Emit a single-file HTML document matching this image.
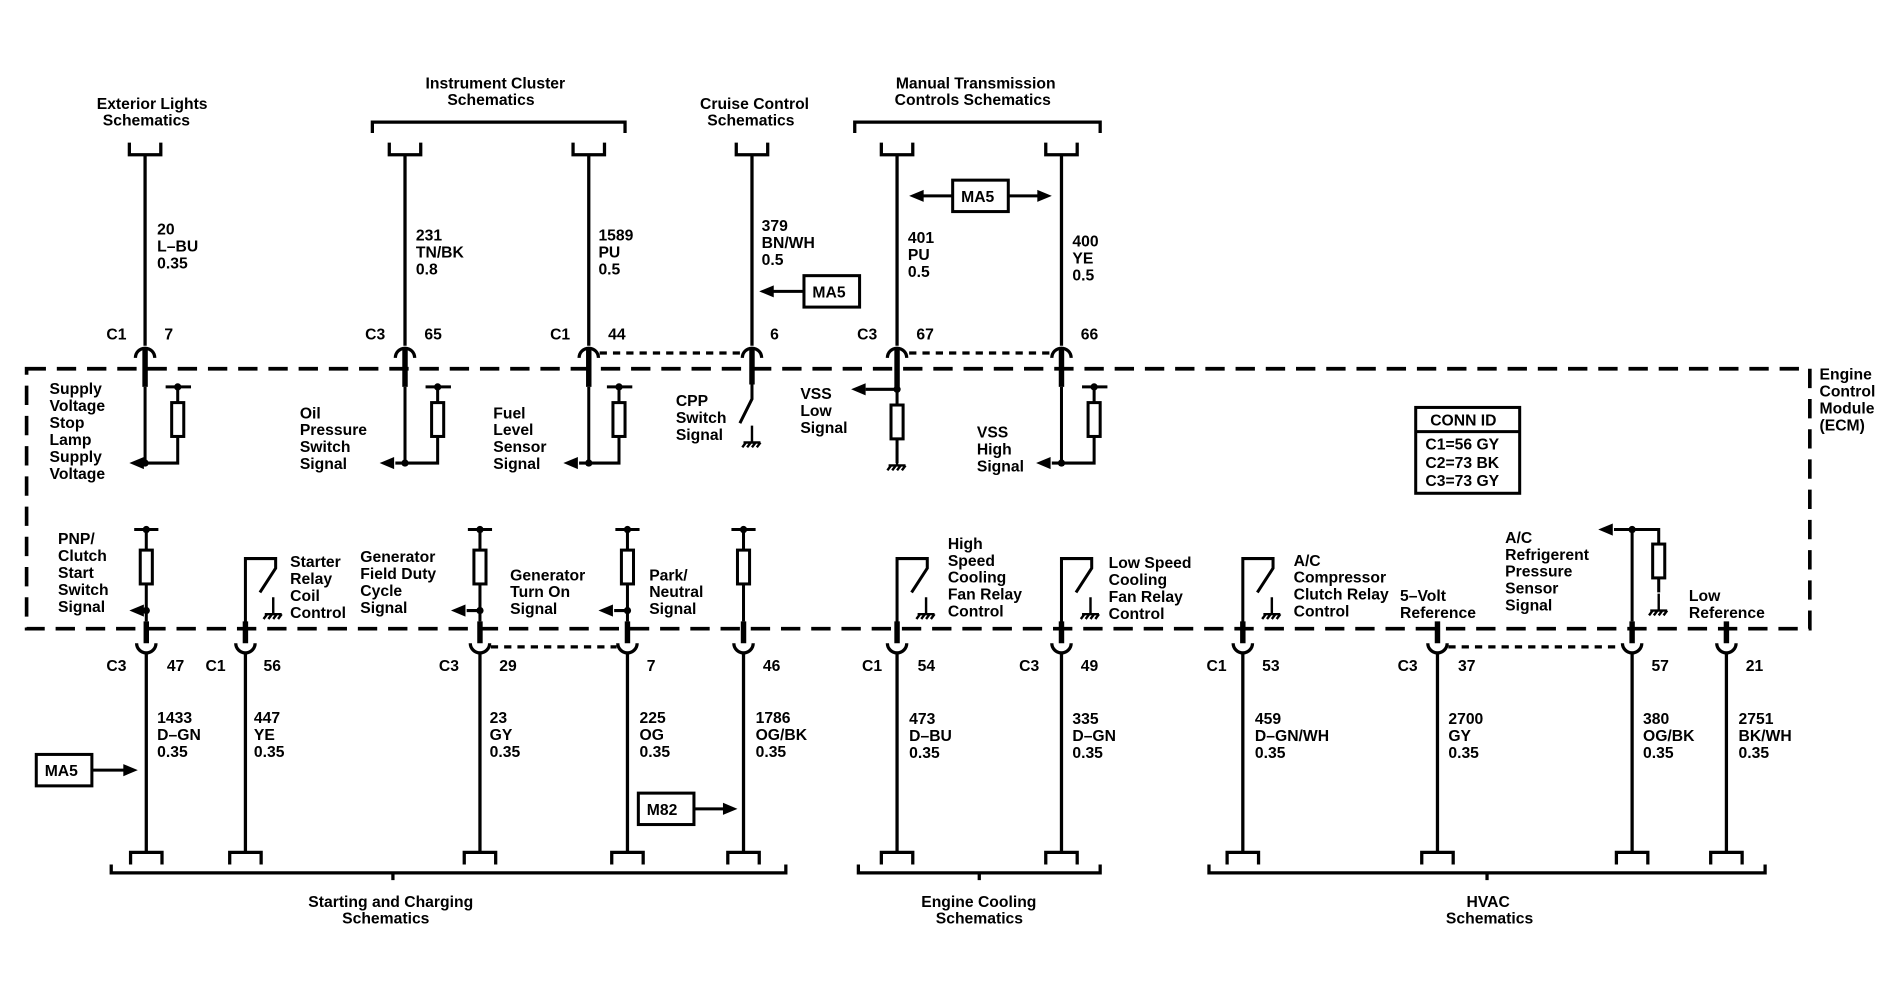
<!DOCTYPE html>
<html><head><meta charset="utf-8"><style>
html,body{margin:0;padding:0;background:#fff;}
svg{display:block}
text{font-family:"Liberation Sans",Arial,sans-serif;font-size:13px;fill:#000;font-weight:bold;}
</style></head><body>
<svg width="1886" height="992" viewBox="0 0 1560 820.5" preserveAspectRatio="none" xmlns="http://www.w3.org/2000/svg">
<defs>
<path id="tt" d="M-13,-10 V0 H13 V-10" fill="none" stroke="#000" stroke-width="2.7"/>
<path id="bt" d="M-13,10 V0 H13 V10" fill="none" stroke="#000" stroke-width="2.7"/>
<path id="ad" d="M-8,6 A8,8 0 0 1 8,6" fill="none" stroke="#000" stroke-width="2.7"/>
<path id="au" d="M-8,-6 A8,8 0 0 0 8,-6" fill="none" stroke="#000" stroke-width="2.7"/>
<g id="gnd" stroke="#000" stroke-width="2" fill="none"><path d="M0,-14 V0 M-7,0 H7 M-5,0 l-3,4 M-1,0 l-3,4 M3,0 l-3,4 M7,0 l-3,4"/></g>
<g id="res" stroke="#000" stroke-width="2.5" fill="#fff"><rect x="-5" y="0" width="10" height="28"/></g>
<g id="sw" stroke="#000" stroke-width="2.5" fill="none"><path d="M0,58 V0 H25 V8 L12,28"/></g>
<path id="arl" d="M0,0 l12,-5 v10 z" fill="#000"/>
<path id="arr" d="M0,0 l-12,-5 v10 z" fill="#000"/>
</defs>

<rect x="22" y="305" width="1475" height="215" fill="none" stroke="#000" stroke-width="3" stroke-dasharray="16,9"/>

<g stroke="#000" stroke-width="2.7" fill="none">
<path d="M308,110 V101 H517 V110"/>
<path d="M707,110 V101 H910 V110"/>
<path d="M92,715 V722 H650 V715 M325,722 V728"/>
<path d="M710,715 V722 H910 V715 M810,722 V728"/>
<path d="M1000,715 V722 H1460 V715 M1230,722 V728"/>
<path d="M120,128 V286 M335,128 V286 M487,128 V286 M622,128 V286 M742,128 V286 M878,128 V286"/>
<path d="M496,292 H612 M752,292 H868 M406,535 H510 M1198,535 H1341" stroke-dasharray="6,5"/>
<path d="M121,540 V705 M203,540 V705 M397,540 V705 M519,540 V705 M615,540 V705 M742,540 V705 M878,540 V705 M1028,540 V705 M1189,540 V705 M1350,540 V705 M1428,540 V705"/>
</g>
<g stroke="#000" stroke-width="4.5">
<path d="M120,288 V320 M335,288 V320 M487,288 V320 M622,288 V318 M742,288 V320 M878,288 V320"/>
<path d="M121,514 V532 M203,514 V532 M397,514 V532 M519,514 V532 M615,514 V532 M742,514 V532 M878,514 V532 M1028,514 V532 M1189,514 V532 M1350,514 V532 M1428,514 V532"/>
</g>
<g>
<use href="#tt" x="120" y="128"/><use href="#tt" x="335" y="128"/><use href="#tt" x="487" y="128"/><use href="#tt" x="622" y="128"/><use href="#tt" x="742" y="128"/><use href="#tt" x="878" y="128"/>
<use href="#ad" x="120" y="290"/><use href="#ad" x="335" y="290"/><use href="#ad" x="487" y="290"/><use href="#ad" x="622" y="290"/><use href="#ad" x="742" y="290"/><use href="#ad" x="878" y="290"/>
<use href="#au" x="121" y="538"/><use href="#au" x="203" y="538"/><use href="#au" x="397" y="538"/><use href="#au" x="519" y="538"/><use href="#au" x="615" y="538"/><use href="#au" x="742" y="538"/><use href="#au" x="878" y="538"/><use href="#au" x="1028" y="538"/><use href="#au" x="1189" y="538"/><use href="#au" x="1350" y="538"/><use href="#au" x="1428" y="538"/>
<use href="#bt" x="121" y="705"/><use href="#bt" x="203" y="705"/><use href="#bt" x="397" y="705"/><use href="#bt" x="519" y="705"/><use href="#bt" x="615" y="705"/><use href="#bt" x="742" y="705"/><use href="#bt" x="878" y="705"/><use href="#bt" x="1028" y="705"/><use href="#bt" x="1189" y="705"/><use href="#bt" x="1350" y="705"/><use href="#bt" x="1428" y="705"/>
</g>

<g stroke="#000" stroke-width="2.5" fill="none">
<path d="M120,320 V383 H147 V362 M147,333 V320 M137,320 H158 M120,383 H112"/>
<path d="M335,320 V383 H362 V362 M362,333 V320 M352,320 H373 M335,383 H327"/>
<path d="M487,320 V383 H512 V362 M512,333 V320 M502,320 H523 M487,383 H479"/>
<path d="M878,320 V383 H905 V362 M905,333 V320 M895,320 H916 M878,383 H870"/>
<path d="M622,318 V330 L612,350"/>
<path d="M742,320 V335 M742,322 H716 M742,363 V383"/>
</g>
<use href="#res" x="147" y="333"/><use href="#res" x="362" y="333"/><use href="#res" x="512" y="333"/><use href="#res" x="905" y="333"/><use href="#res" x="742" y="335"/>
<use href="#arl" x="107" y="383"/><use href="#arl" x="314" y="383"/><use href="#arl" x="466" y="383"/><use href="#arl" x="857" y="383"/><use href="#arl" x="704" y="322"/>
<use href="#gnd" x="622" y="366"/><use href="#gnd" x="742" y="385"/>
<g fill="#000"><circle cx="120" cy="383" r="3"/><circle cx="147" cy="320" r="3"/><circle cx="335" cy="383" r="3"/><circle cx="362" cy="320" r="3"/><circle cx="487" cy="383" r="3"/><circle cx="512" cy="320" r="3"/><circle cx="878" cy="383" r="3"/><circle cx="905" cy="320" r="3"/><circle cx="742" cy="322" r="3"/></g>

<g stroke="#000" stroke-width="2.5" fill="none">
<path d="M111,438 H131 M121,438 V455 M121,483 V514 M121,505 H112"/>
<path d="M387,438 H407 M397,438 V455 M397,483 V514 M397,505 H386"/>
<path d="M509,438 H529 M519,438 V455 M519,483 V514 M519,505 H508"/>
<path d="M605,438 H625 M615,438 V455 M615,483 V514"/>
<path d="M1350,514 V438 H1335 M1350,438 H1372 V450 M1372,478 V490"/>
</g>
<use href="#res" x="121" y="455"/><use href="#res" x="397" y="455"/><use href="#res" x="519" y="455"/><use href="#res" x="615" y="455"/><use href="#res" x="1372" y="450"/>
<use href="#arl" x="107" y="505"/><use href="#arl" x="373" y="505"/><use href="#arl" x="495" y="505"/><use href="#arl" x="1322" y="438"/>
<use href="#gnd" x="1372" y="505"/>
<g fill="#000"><circle cx="121" cy="438" r="3"/><circle cx="121" cy="505" r="3"/><circle cx="397" cy="438" r="3"/><circle cx="397" cy="505" r="3"/><circle cx="519" cy="438" r="3"/><circle cx="519" cy="505" r="3"/><circle cx="615" cy="438" r="3"/><circle cx="1350" cy="438" r="3"/></g>
<use href="#sw" x="203" y="462"/><use href="#sw" x="742" y="462"/><use href="#sw" x="878" y="462"/><use href="#sw" x="1028" y="462"/>
<use href="#gnd" x="226" y="508"/><use href="#gnd" x="766" y="508"/><use href="#gnd" x="902" y="508"/><use href="#gnd" x="1052" y="508"/>

<g stroke="#000" stroke-width="2.5" fill="#fff">
<rect x="788" y="149" width="46" height="26"/>
<rect x="665" y="228" width="46" height="26"/>
<rect x="30" y="624" width="46" height="26"/>
<rect x="528" y="656" width="46" height="26"/>
<rect x="1171" y="337" width="86" height="71"/>
</g>
<g stroke="#000" stroke-width="2.5"><path d="M760,162 H788 M834,162 H862 M636,241 H665 M76,637 H104 M574,669 H602 M1171,357 H1257"/></g>
<use href="#arl" x="752" y="162"/><use href="#arr" x="870" y="162"/><use href="#arl" x="628" y="241"/><use href="#arr" x="114" y="637"/><use href="#arr" x="610" y="669"/>
<text x="795" y="167">MA5</text><text x="672" y="246">MA5</text><text x="37" y="642">MA5</text><text x="535" y="674">M82</text>
<text x="1183" y="352">CONN ID</text><text x="1179" y="372">C1=56 GY</text><text x="1179" y="387">C2=73 BK</text><text x="1179" y="402">C3=73 GY</text>

<text x="80" y="90">Exterior Lights</text><text x="85" y="104">Schematics</text>
<text x="352" y="73">Instrument Cluster</text><text x="370" y="87">Schematics</text>
<text x="579" y="90">Cruise Control</text><text x="585" y="104">Schematics</text>
<text x="741" y="73">Manual Transmission</text><text x="740" y="87">Controls Schematics</text>

<text x="130" y="194">20</text><text x="130" y="208">L–BU</text><text x="130" y="222">0.35</text>
<text x="344" y="199">231</text><text x="344" y="213">TN/BK</text><text x="344" y="227">0.8</text>
<text x="495" y="199">1589</text><text x="495" y="213">PU</text><text x="495" y="227">0.5</text>
<text x="630" y="191">379</text><text x="630" y="205">BN/WH</text><text x="630" y="219">0.5</text>
<text x="751" y="201">401</text><text x="751" y="215">PU</text><text x="751" y="229">0.5</text>
<text x="887" y="204">400</text><text x="887" y="218">YE</text><text x="887" y="232">0.5</text>

<text x="88" y="281">C1</text><text x="136" y="281">7</text>
<text x="302" y="281">C3</text><text x="351" y="281">65</text>
<text x="455" y="281">C1</text><text x="503" y="281">44</text>
<text x="637" y="281">6</text>
<text x="709" y="281">C3</text><text x="758" y="281">67</text>
<text x="894" y="281">66</text>

<text x="41" y="326">Supply</text><text x="41" y="340">Voltage</text><text x="41" y="354">Stop</text><text x="41" y="368">Lamp</text><text x="41" y="382">Supply</text><text x="41" y="396">Voltage</text>
<text x="248" y="346">Oil</text><text x="248" y="360">Pressure</text><text x="248" y="374">Switch</text><text x="248" y="388">Signal</text>
<text x="408" y="346">Fuel</text><text x="408" y="360">Level</text><text x="408" y="374">Sensor</text><text x="408" y="388">Signal</text>
<text x="559" y="336">CPP</text><text x="559" y="350">Switch</text><text x="559" y="364">Signal</text>
<text x="662" y="330">VSS</text><text x="662" y="344">Low</text><text x="662" y="358">Signal</text>
<text x="808" y="362">VSS</text><text x="808" y="376">High</text><text x="808" y="390">Signal</text>
<text x="1505" y="314">Engine</text><text x="1505" y="328">Control</text><text x="1505" y="342">Module</text><text x="1505" y="356">(ECM)</text>

<text x="48" y="450">PNP/</text><text x="48" y="464">Clutch</text><text x="48" y="478">Start</text><text x="48" y="492">Switch</text><text x="48" y="506">Signal</text>
<text x="240" y="469">Starter</text><text x="240" y="483">Relay</text><text x="240" y="497">Coil</text><text x="240" y="511">Control</text>
<text x="298" y="465">Generator</text><text x="298" y="479">Field Duty</text><text x="298" y="493">Cycle</text><text x="298" y="507">Signal</text>
<text x="422" y="480">Generator</text><text x="422" y="494">Turn On</text><text x="422" y="508">Signal</text>
<text x="537" y="480">Park/</text><text x="537" y="494">Neutral</text><text x="537" y="508">Signal</text>
<text x="784" y="454">High</text><text x="784" y="468">Speed</text><text x="784" y="482">Cooling</text><text x="784" y="496">Fan Relay</text><text x="784" y="510">Control</text>
<text x="917" y="470">Low Speed</text><text x="917" y="484">Cooling</text><text x="917" y="498">Fan Relay</text><text x="917" y="512">Control</text>
<text x="1070" y="468">A/C</text><text x="1070" y="482">Compressor</text><text x="1070" y="496">Clutch Relay</text><text x="1070" y="510">Control</text>
<text x="1158" y="497">5–Volt</text><text x="1158" y="511">Reference</text>
<text x="1245" y="449">A/C</text><text x="1245" y="463">Refrigerent</text><text x="1245" y="477">Pressure</text><text x="1245" y="491">Sensor</text><text x="1245" y="505">Signal</text>
<text x="1397" y="497">Low</text><text x="1397" y="511">Reference</text>

<text x="88" y="555">C3</text><text x="138" y="555">47</text>
<text x="170" y="555">C1</text><text x="218" y="555">56</text>
<text x="363" y="555">C3</text><text x="413" y="555">29</text>
<text x="535" y="555">7</text>
<text x="631" y="555">46</text>
<text x="713" y="555">C1</text><text x="759" y="555">54</text>
<text x="843" y="555">C3</text><text x="894" y="555">49</text>
<text x="998" y="555">C1</text><text x="1044" y="555">53</text>
<text x="1156" y="555">C3</text><text x="1206" y="555">37</text>
<text x="1366" y="555">57</text>
<text x="1444" y="555">21</text>

<text x="130" y="598">1433</text><text x="130" y="612">D–GN</text><text x="130" y="626">0.35</text>
<text x="210" y="598">447</text><text x="210" y="612">YE</text><text x="210" y="626">0.35</text>
<text x="405" y="598">23</text><text x="405" y="612">GY</text><text x="405" y="626">0.35</text>
<text x="529" y="598">225</text><text x="529" y="612">OG</text><text x="529" y="626">0.35</text>
<text x="625" y="598">1786</text><text x="625" y="612">OG/BK</text><text x="625" y="626">0.35</text>
<text x="752" y="599">473</text><text x="752" y="613">D–BU</text><text x="752" y="627">0.35</text>
<text x="887" y="599">335</text><text x="887" y="613">D–GN</text><text x="887" y="627">0.35</text>
<text x="1038" y="599">459</text><text x="1038" y="613">D–GN/WH</text><text x="1038" y="627">0.35</text>
<text x="1198" y="599">2700</text><text x="1198" y="613">GY</text><text x="1198" y="627">0.35</text>
<text x="1359" y="599">380</text><text x="1359" y="613">OG/BK</text><text x="1359" y="627">0.35</text>
<text x="1438" y="599">2751</text><text x="1438" y="613">BK/WH</text><text x="1438" y="627">0.35</text>

<text x="255" y="750">Starting and Charging</text><text x="283" y="764">Schematics</text>
<text x="762" y="750">Engine Cooling</text><text x="774" y="764">Schematics</text>
<text x="1213" y="750">HVAC</text><text x="1196" y="764">Schematics</text>
</svg>
</body></html>
